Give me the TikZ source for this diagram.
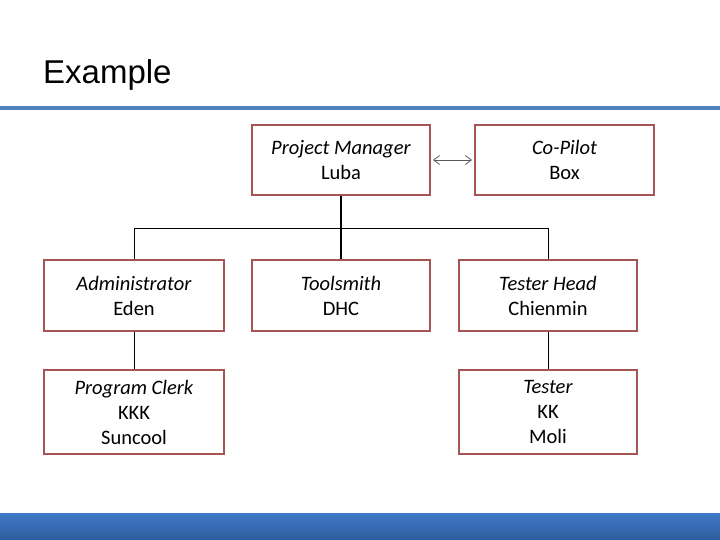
\documentclass[tikz,border=0pt]{standalone}
\usepackage{fontspec}
\setmainfont{Carlito}
\newfontfamily\titlefont{Liberation Sans}
\usetikzlibrary{arrows.meta}
\definecolor{rulecol}{RGB}{79,129,189}
\definecolor{boxcol}{RGB}{165,85,82}
\definecolor{bartop}{RGB}{62,122,200}
\definecolor{barbot}{RGB}{46,92,155}
\tikzset{
  rolebox/.style={draw=boxcol, line width=2pt, rectangle, inner sep=0pt,
    minimum width=178pt, align=center, font=\fontsize{20.5}{25}\selectfont},
  link/.style={draw=black, line width=0.9pt},
}
\begin{document}
\begin{tikzpicture}[x=1pt,y=-1pt]
\useasboundingbox (0,0) rectangle (720,540);
\fill[white] (0,0) rectangle (720,540);
\fill[rulecol] (0,106) rectangle (720,110.5);
\shade[top color=bartop, bottom color=barbot] (0,513) rectangle (720,540);
\node[anchor=base west, inner sep=0pt, font=\titlefont\fontsize{33}{38}\selectfont] (title) at (43,84) {Example};

\node[rolebox, minimum height=70pt] (pm) at (341,160) {\textit{Project Manager}\\Luba};
\node[rolebox, minimum height=70pt, minimum width=179pt] (cp) at (564.5,160) {\textit{Co-Pilot}\\Box};
\node[rolebox, minimum height=71pt, minimum width=180pt] (ad) at (134,295.5) {\textit{Administrator}\\Eden};
\node[rolebox, minimum height=71pt] (ts) at (341,295.5) {\textit{Toolsmith}\\DHC};
\node[rolebox, minimum height=71pt] (th) at (548,295.5) {\textit{Tester Head}\\Chienmin};
\node[rolebox, minimum height=84pt, minimum width=180pt] (pc) at (134,412) {\textit{Program Clerk}\\KKK\\Suncool};
\node[rolebox, minimum height=84pt] (te) at (548,412) {\textit{Tester}\\KK\\Moli};

\coordinate (bus) at (0,228.5);
\draw[link, line width=1.6pt] (pm.south) -- (ts.north);
\draw[link] (ad.north) -- (ad.north |- bus) -- (th.north |- bus) -- (th.north);
\draw[link] (ad.south) -- (pc.north);
\draw[link] (th.south) -- (te.north);
\draw[gray!70!black, line width=0.8pt, {Straight Barb[length=6pt,width=9pt]}-{Straight Barb[length=6pt,width=9pt]}, shorten <=2pt, shorten >=2pt] (pm.east) -- (cp.west);
\end{tikzpicture}
\end{document}
